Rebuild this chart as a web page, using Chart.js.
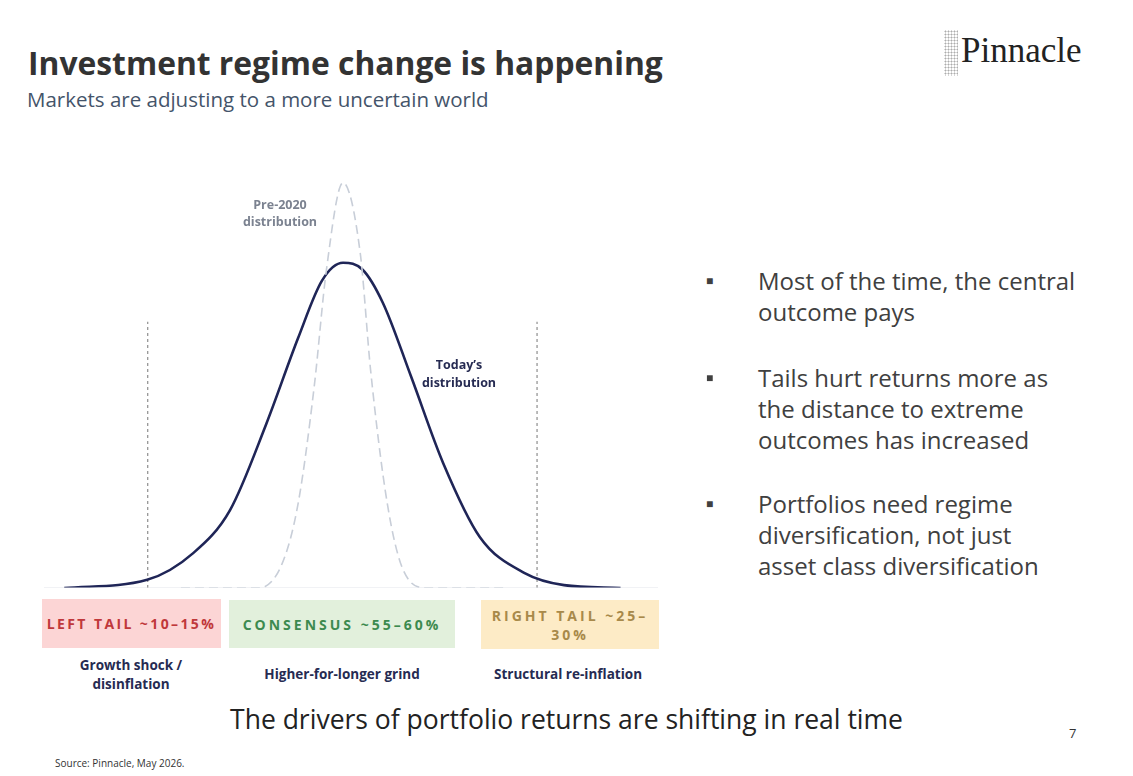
<!DOCTYPE html>
<html>
<head>
<meta charset="utf-8">
<script src="https://cdn.jsdelivr.net/npm/chart.js@4"></script>
<style>
  body { margin:0; width:1133px; height:776px; background:#fff; position:relative; overflow:hidden;
         font-family: "Open Sans", "Noto Sans", sans-serif; }
  .abs { position:absolute; white-space:nowrap; }
  #wrap { position:absolute; left:44px; top:168px; width:614px; height:420px; }
  .box { position:absolute; display:flex; align-items:center; justify-content:center; text-align:center;
         font-weight:700; font-size:14px; letter-spacing:3px; line-height:19px; }
  .lab { position:absolute; text-align:center; font-weight:700; font-size:13.5px; color:#262b52; line-height:19px; }
  .bul { position:absolute; left:706px; font-size:24px; color:#404040; line-height:31px; white-space:nowrap; }
  .bul span.b { position:absolute; left:0; top:0; font-size:12px; }
  .bul div { margin-left:52px; }
</style>
</head>
<body>
<div class="abs" style="left:28px;top:41px;font-size:31.8px;font-weight:700;color:#333;">Investment regime change is happening</div>
<div class="abs" style="left:27px;top:85px;font-size:20.5px;color:#44546a;">Markets are adjusting to a more uncertain world</div>
<div class="abs" style="left:944px;top:30px;width:14px;height:46px;background:radial-gradient(circle,#999 0.8px,transparent 1.2px) 0 0/3px 3px;opacity:.8;"></div>
<div class="abs" style="left:961px;top:31px;font-size:35px;font-family:'Liberation Serif','DejaVu Serif',serif;color:#222;">Pinnacle</div>

<div id="wrap"><canvas id="c"></canvas></div>

<div class="abs" style="left:230px;top:196px;width:100px;text-align:center;font-size:12.5px;font-weight:700;color:#7b8290;line-height:17px;">Pre-2020<br>distribution</div>
<div class="abs" style="left:409px;top:356px;width:100px;text-align:center;font-size:12.5px;font-weight:700;color:#262b52;line-height:18px;">Today’s<br>distribution</div>

<div class="box" style="left:42px;top:599px;width:179px;height:49px;background:#fcd5d5;color:#c0383b;white-space:nowrap;letter-spacing:2.4px;">LEFT TAIL ~10–15%</div>
<div class="box" style="left:229px;top:600px;width:226px;height:48px;background:#e2f0dc;color:#3d8a4f;">CONSENSUS ~55–60%</div>
<div class="box" style="left:481px;top:600px;width:178px;height:49px;background:#fdebc6;color:#a8894a;">RIGHT TAIL ~25–<br>30%</div>

<div class="lab" style="left:56px;top:656px;width:150px;">Growth shock /<br>disinflation</div>
<div class="lab" style="left:242px;top:665px;width:200px;">Higher-for-longer grind</div>
<div class="lab" style="left:468px;top:665px;width:200px;">Structural re-inflation</div>

<div class="bul" style="top:265px;"><span class="b">■</span><div>Most of the time, the central<br>outcome pays</div></div>
<div class="bul" style="top:362px;"><span class="b">■</span><div>Tails hurt returns more as<br>the distance to extreme<br>outcomes has increased</div></div>
<div class="bul" style="top:488px;"><span class="b">■</span><div>Portfolios need regime<br>diversification, not just<br>asset class diversification</div></div>

<div class="abs" style="left:0;width:1133px;text-align:center;top:701px;font-size:26.5px;color:#222;">The drivers of portfolio returns are shifting in real time</div>
<div class="abs" style="left:1069px;top:724px;font-size:13px;color:#333;">7</div>
<div class="abs" style="left:55px;top:756px;font-size:10px;color:#333;">Source: Pinnacle, May 2026.</div>

<script>
// today's distribution
const todayX = [3.3, 16.8, 24.3, 30.3, 36.2, 41.4, 45.3, 48.7, 51.9, 55.2, 59.8, 65.0, 71.0, 78.2, 84.7, 93.9];
const todayY = [0, 2, 8.5, 19, 40, 61, 75, 79.3, 77.6, 69.5, 51.5, 30.5, 12.4, 3.7, 0.7, 0];
// pre-2020 distribution
const preX = [22.3, 34.9, 38.8, 41.4, 44.0, 46.0, 48.7, 51.5, 53.2, 55.9, 58.5, 62.4, 74.9];
const preY = [0, 0, 6, 20.7, 49, 77.6, 98.8, 81.7, 53, 20.7, 4.4, 0, 0];
// tail cut-offs
const tailX = [16.9, 80.3];
const tailTop = 64.9;

const pts = (xs, ys) => xs.map((x, i) => ({ x, y: ys[i] }));

const datasets = [
  { data: [{x:0,y:0},{x:100,y:0}], borderColor:"#e3e5ea", borderWidth:1, pointRadius:0 },
  { data: pts(preX, preY), borderColor:"#c8ced8", borderWidth:1.6, borderDash:[9,5],
    pointRadius:0, cubicInterpolationMode:"monotone" },
  { data: pts(todayX, todayY), borderColor:"#1f2557", borderWidth:2.6,
    pointRadius:0, cubicInterpolationMode:"monotone" }
];
tailX.forEach(x => datasets.push({
  data: [{x, y:0}, {x, y:tailTop}], borderColor:"#777", borderWidth:1, borderDash:[3,3], pointRadius:0
}));

new Chart(document.getElementById("c"), {
  type: "line",
  data: { datasets },
  options: {
    responsive: true,
    maintainAspectRatio: false,
    animation: false,
    clip: false,
    layout: { padding: 0 },
    plugins: { legend: { display:false }, tooltip: { enabled:false } },
    scales: {
      x: { type:"linear", min:0, max:100, display:false },
      y: { min:0, max:102.4, display:false }
    }
  }
});
</script>
</body>
</html>
